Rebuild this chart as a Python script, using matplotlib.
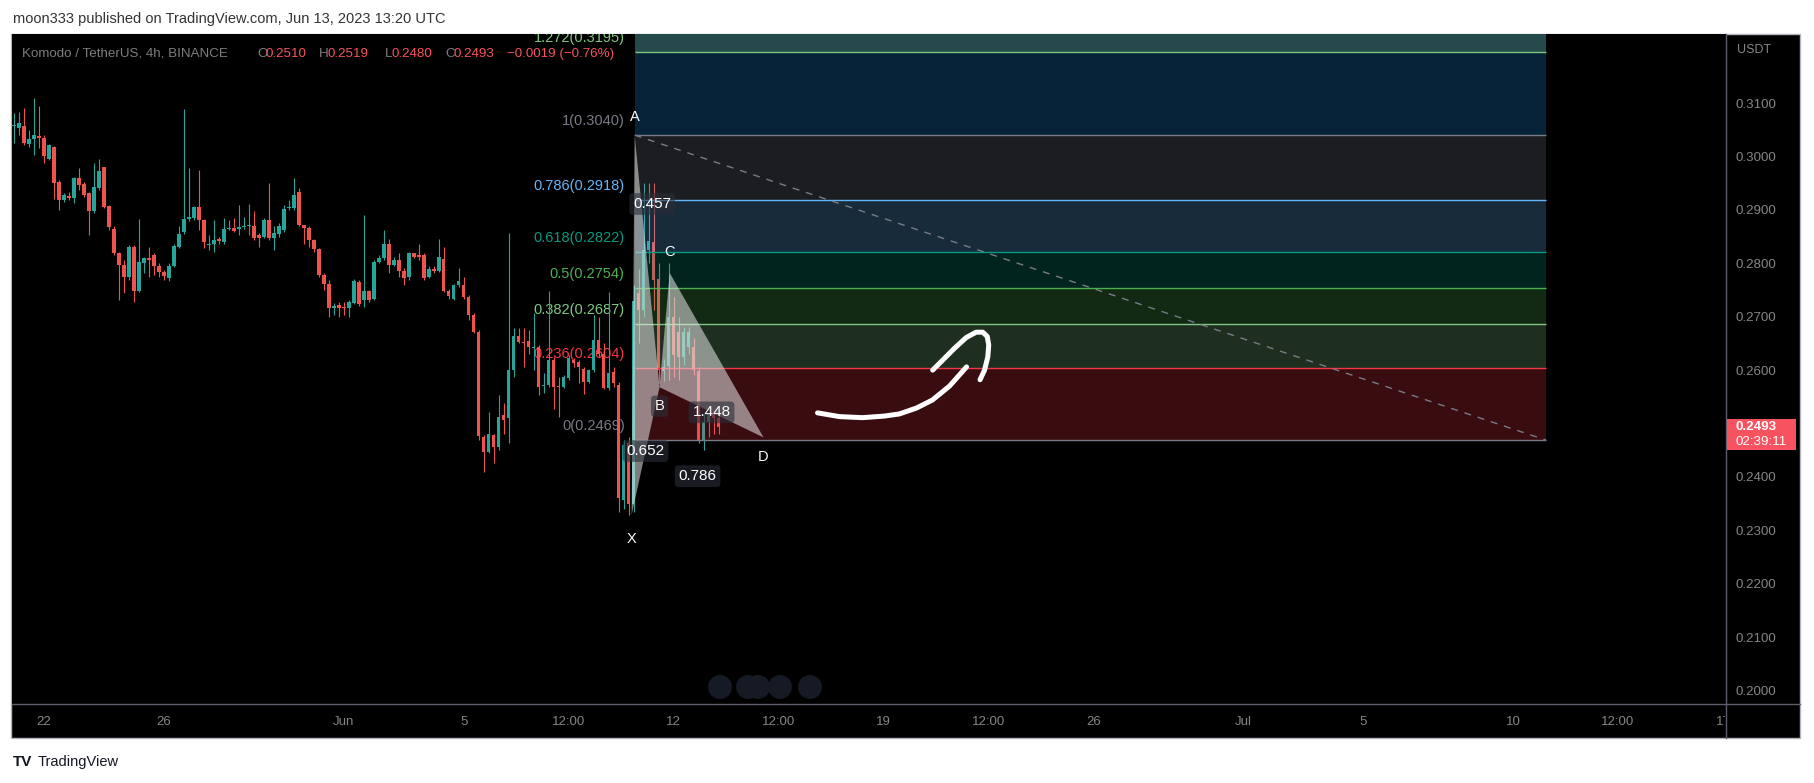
import matplotlib
matplotlib.use("Agg")
import matplotlib.pyplot as plt
from matplotlib.patches import Rectangle, Circle
from matplotlib.lines import Line2D
from matplotlib.transforms import IdentityTransform, Bbox

W, H = 1814, 783
plt.rcParams['font.family'] = ['Liberation Sans', 'DejaVu Sans']

# 4h candles, first bar May 21 00:00; x is measured in days since May 22 00:00
first_bar = -1.0
bar_step = 1 / 6

opens = [0.3057, 0.3053, 0.3057, 0.3024, 0.3032, 0.3038, 0.3035, 0.2996, 0.3018, 0.2953,
         0.2918, 0.2926, 0.2922, 0.2959, 0.2948, 0.2931, 0.2897, 0.2940, 0.2980, 0.2907,
         0.2865, 0.2819, 0.2797, 0.2774, 0.2831, 0.2749, 0.2801, 0.2809, 0.2816, 0.2795,
         0.2784, 0.2772, 0.2795, 0.2831, 0.2859, 0.2882, 0.2884, 0.2906, 0.2881, 0.2834,
         0.2836, 0.2845, 0.2839, 0.2864, 0.2866, 0.2865, 0.2867, 0.2869, 0.2870, 0.2853,
         0.2850, 0.2881, 0.2847, 0.2855, 0.2862, 0.2903, 0.2903, 0.2933, 0.2871, 0.2866,
         0.2844, 0.2826, 0.2778, 0.2762, 0.2716, 0.2722, 0.2719, 0.2717, 0.2726, 0.2765,
         0.2731, 0.2749, 0.2734, 0.2802, 0.2809, 0.2837, 0.2797, 0.2807, 0.2786, 0.2774,
         0.2819, 0.2816, 0.2815, 0.2774, 0.2789, 0.2786, 0.2808, 0.2749, 0.2734, 0.2759,
         0.2759, 0.2737, 0.2703, 0.2672,
         0.2475, 0.2447, 0.2478, 0.2457, 0.2516, 0.2510, 0.2601, 0.2664, 0.2653, 0.2655,
         0.2641, 0.2644, 0.2571, 0.2572, 0.2619, 0.2571, 0.2569, 0.2585, 0.2619, 0.2616,
         0.2603, 0.2578, 0.2600, 0.2656, 0.2631, 0.2566, 0.2597, 0.2572, 0.2357,
         0.2463, 0.2350, 0.2744, 0.2712, 0.2825, 0.2840, 0.2770, 0.2598, 0.2607, 0.2700,
         0.2672, 0.2625, 0.2644, 0.2644, 0.2599, 0.2469, 0.2503, 0.2518, 0.2510]
closes = [0.3059, 0.3062, 0.3025, 0.3032, 0.3040, 0.3034, 0.3000, 0.3021, 0.2950, 0.2918,
          0.2928, 0.2923, 0.2959, 0.2947, 0.2928, 0.2897, 0.2942, 0.2972, 0.2906, 0.2867,
          0.2819, 0.2797, 0.2774, 0.2831, 0.2749, 0.2803, 0.2809, 0.2806, 0.2795, 0.2784,
          0.2776, 0.2795, 0.2832, 0.2855, 0.2883, 0.2886, 0.2906, 0.2881, 0.2839, 0.2837,
          0.2844, 0.2841, 0.2865, 0.2866, 0.2861, 0.2868, 0.2870, 0.2872, 0.2847, 0.2847,
          0.2881, 0.2847, 0.2857, 0.2869, 0.2902, 0.2906, 0.2928, 0.2871, 0.2866, 0.2844,
          0.2826, 0.2778, 0.2761, 0.2716, 0.2720, 0.2716, 0.2716, 0.2728, 0.2767, 0.2724,
          0.2749, 0.2731, 0.2803, 0.2809, 0.2837, 0.2797, 0.2807, 0.2786, 0.2772, 0.2819,
          0.2812, 0.2812, 0.2772, 0.2790, 0.2786, 0.2811, 0.2749, 0.2738, 0.2759, 0.2766,
          0.2736, 0.2703, 0.2672, 0.2477,
          0.2447, 0.2481, 0.2457, 0.2512, 0.2507, 0.2601, 0.2664, 0.2653, 0.2650, 0.2644,
          0.2643, 0.2568, 0.2573, 0.2619, 0.2569, 0.2569, 0.2588, 0.2622, 0.2613, 0.2606,
          0.2578, 0.2600, 0.2656, 0.2631, 0.2566, 0.2595, 0.2575, 0.2360, 0.2460,
          0.2350, 0.2730, 0.2712, 0.2825, 0.2842, 0.2769, 0.2600, 0.2606, 0.2700, 0.2628,
          0.2625, 0.2672, 0.2672, 0.2600, 0.2469, 0.2503, 0.2518, 0.2510, 0.2493]
highs = [0.3081, 0.3084, 0.3090, 0.3050, 0.3110, 0.3094, 0.3040, 0.3024, 0.3020, 0.2956,
         0.2931, 0.2934, 0.2962, 0.2978, 0.2953, 0.2934, 0.2987, 0.2995, 0.2981, 0.2909,
         0.2869, 0.2822, 0.2806, 0.2834, 0.2834, 0.2882, 0.2812, 0.2831, 0.2819, 0.2800,
         0.2787, 0.2800, 0.2837, 0.2869, 0.3088, 0.2978, 0.2908, 0.2975, 0.2882, 0.2853,
         0.2881, 0.2850, 0.2884, 0.2881, 0.2884, 0.2909, 0.2887, 0.2911, 0.2897, 0.2856,
         0.2884, 0.2950, 0.2869, 0.2875, 0.2909, 0.2919, 0.2959, 0.2940, 0.2872, 0.2869,
         0.2845, 0.2828, 0.2781, 0.2768, 0.2725, 0.2728, 0.2728, 0.2731, 0.2770, 0.2769,
         0.2890, 0.2750, 0.2806, 0.2816, 0.2862, 0.2845, 0.2812, 0.2819, 0.2791, 0.2822,
         0.2820, 0.2837, 0.2819, 0.2794, 0.2794, 0.2845, 0.2831, 0.2751, 0.2762, 0.2791,
         0.2775, 0.2740, 0.2706, 0.2675,
         0.2478, 0.2522, 0.2481, 0.2553, 0.2538, 0.2856, 0.2678, 0.2678, 0.2678, 0.2675,
         0.2706, 0.2647, 0.2594, 0.2749, 0.2625, 0.2588, 0.2591, 0.2628, 0.2622, 0.2619,
         0.2606, 0.2603, 0.2703, 0.2700, 0.2650, 0.2747, 0.2606, 0.2578, 0.2470,
         0.2475, 0.2760, 0.2790, 0.2950, 0.2950, 0.2950, 0.2800, 0.2620, 0.2800, 0.2737,
         0.2700, 0.2680, 0.2680, 0.2660, 0.2605, 0.2520, 0.2525, 0.2525, 0.2519]
lows = [0.3025, 0.3040, 0.3022, 0.3018, 0.3003, 0.3015, 0.2987, 0.2993, 0.2920, 0.2900,
        0.2915, 0.2918, 0.2912, 0.2937, 0.2925, 0.2853, 0.2894, 0.2937, 0.2903, 0.2862,
        0.2816, 0.2731, 0.2744, 0.2769, 0.2728, 0.2747, 0.2781, 0.2775, 0.2778, 0.2775,
        0.2769, 0.2766, 0.2793, 0.2828, 0.2855, 0.2880, 0.2881, 0.2862, 0.2828, 0.2825,
        0.2822, 0.2837, 0.2837, 0.2862, 0.2859, 0.2853, 0.2865, 0.2853, 0.2844, 0.2831,
        0.2847, 0.2844, 0.2825, 0.2850, 0.2859, 0.2900, 0.2900, 0.2869, 0.2837, 0.2831,
        0.2822, 0.2775, 0.2750, 0.2700, 0.2703, 0.2699, 0.2703, 0.2700, 0.2724, 0.2720,
        0.2719, 0.2728, 0.2731, 0.2800, 0.2806, 0.2781, 0.2794, 0.2775, 0.2759, 0.2769,
        0.2809, 0.2806, 0.2769, 0.2772, 0.2781, 0.2784, 0.2747, 0.2734, 0.2731, 0.2756,
        0.2734, 0.2694, 0.2669, 0.2470,
        0.2410, 0.2444, 0.2426, 0.2450, 0.2481, 0.2463, 0.2587, 0.2650, 0.2606, 0.2631,
        0.2600, 0.2553, 0.2557, 0.2569, 0.2528, 0.2513, 0.2566, 0.2581, 0.2606, 0.2575,
        0.2556, 0.2575, 0.2597, 0.2625, 0.2564, 0.2563, 0.2569, 0.2335, 0.2340,
        0.2329, 0.2335, 0.2650, 0.2700, 0.2800, 0.2712, 0.2575, 0.2580, 0.2582, 0.2588,
        0.2581, 0.2610, 0.2630, 0.2590, 0.2463, 0.2450, 0.2475, 0.2480, 0.2480]

price_ticks = [0.20, 0.21, 0.22, 0.23, 0.24, 0.25, 0.26, 0.27, 0.28, 0.29, 0.30, 0.31]
time_ticks = [0, 4, 10, 14, 17.5, 21, 24.5, 28, 31.5, 35, 40, 44, 49, 52.5, 56]
time_labels = ['22', '26', 'Jun', '5', '12:00', '12', '12:00', '19', '12:00', '26',
               'Jul', '5', '10', '12:00', '17']

# fib retracement
fib_levels = ['0', '0.236', '0.382', '0.5', '0.618', '0.786', '1', '1.272']
fib_prices = [0.2469, 0.2604, 0.2687, 0.2754, 0.2822, 0.2918, 0.3040, 0.3195]
fib_colors = ['#787b86', '#f23645', '#81c784', '#4caf50', '#089981', '#64b5f6', '#787b86', '#81c784']
zone_colors = ['#f23645', '#81c784', '#4caf50', '#089981', '#64b5f6', '#787b86', '#2196f3']
fib_start, fib_end = 19.7, 50.1

# XABCD pattern
pat_names = ['X', 'A', 'B', 'C', 'D']
pat_days = [19.6, 19.7, 20.53, 20.87, 24.0]
pat_prices = [0.2329, 0.3040, 0.2568, 0.2782, 0.2474]
ratio_pairs = [(1, 3), (0, 2), (0, 4), (2, 4)]
ratio_text = ['0.457', '0.652', '0.786', '1.448']

# hand drawn arrow
brush1_days = [25.80, 26.53, 27.30, 28.03, 28.53, 29.10, 29.63, 30.20, 30.77]
brush1_prices = [0.2520, 0.2513, 0.2511, 0.2514, 0.2518, 0.2529, 0.2544, 0.2570, 0.2606]
brush2_days = [29.64, 29.98, 30.37, 30.76, 31.09, 31.31, 31.46, 31.51, 31.48, 31.37, 31.22]
brush2_prices = [0.2600, 0.2619, 0.2641, 0.2661, 0.2671, 0.2671, 0.2663, 0.2647, 0.2625, 0.2600, 0.2582]

last_price = 0.2493


def fx(x):
    return x / W


def fy(y):
    return 1 - y / H


fig = plt.figure(figsize=(W / 100, H / 100), dpi=100, facecolor='white')

# chart frame
fig.add_artist(Rectangle((fx(11), fy(738)), (1800 - 11) / W, (738 - 34) / H,
                         transform=fig.transFigure, facecolor='black',
                         edgecolor='#b2b5be', lw=1, zorder=0))

ax = fig.add_axes([fx(12), fy(704), (1726 - 12) / W, (704 - 34) / H])
ax.set_facecolor('black')
ax.set_xlim(-1.0667, 56.1)
ax.set_ylim(0.1975, 0.32292)
for s in ax.spines.values():
    s.set_visible(False)

# candles
up_col, dn_col = '#26a69a', '#ef5350'
for i in range(len(opens)):
    t = first_bar + i * bar_step
    o, h, l, c = opens[i], highs[i], lows[i], closes[i]
    col = up_col if c >= o else dn_col
    ax.vlines(t, l, h, color=col, lw=0.8, zorder=2)
    ax.bar(t, max(abs(c - o), 0.00015), bottom=min(o, c), width=0.7 * bar_step,
           color=col, lw=0, zorder=2.1)

# fib zones and lines
for k in range(len(zone_colors)):
    ax.fill_between([fib_start, fib_end], fib_prices[k], fib_prices[k + 1],
                    color=zone_colors[k], alpha=0.24, lw=0, zorder=3)
ax.fill_between([fib_start, fib_end], fib_prices[-1], 0.34,
                color='#264a4b', lw=0, zorder=3)
for lvl, p, col in zip(fib_levels, fib_prices, fib_colors):
    ax.hlines(p, fib_start, fib_end, color=col, lw=1, zorder=3.5)
    ax.annotate(f'{lvl}({p:.4f})', (fib_start, p), xytext=(-10, 14),
                textcoords='offset pixels', ha='right', va='center',
                color=col, fontsize=10.5, zorder=1.5, clip_on=True)
ax.plot([fib_start, fib_end], [fib_prices[6], fib_prices[0]], color='#787b86',
        lw=1, ls=(0, (5, 5)), zorder=3.6)

# harmonic pattern triangles
for tri in [(0, 1, 2), (2, 3, 4)]:
    ax.fill([pat_days[j] for j in tri], [pat_prices[j] for j in tri],
            color='#e6e6e6', alpha=0.55, lw=0, zorder=5)

box = dict(boxstyle='round,pad=0.25', fc='#2a2e39', ec='none', alpha=0.6)
for (a, b), txt in zip(ratio_pairs, ratio_text):
    ax.text((pat_days[a] + pat_days[b]) / 2, (pat_prices[a] + pat_prices[b]) / 2, txt,
            ha='center', va='center', color='white', fontsize=11, bbox=box, zorder=7)
name_offsets = [-24, 18, -19, 21, -20]
for name, t, p, off in zip(pat_names, pat_days, pat_prices, name_offsets):
    ax.annotate(name, (t, p), xytext=(0, off), textcoords='offset pixels',
                ha='center', va='center', color='white', fontsize=10.5,
                bbox=box if name == 'B' else None, zorder=7)

# brush arrow
ax.plot(brush1_days, brush1_prices, color='white', lw=3.6, solid_capstyle='round',
        solid_joinstyle='round', zorder=8)
ax.plot(brush2_days, brush2_prices, color='white', lw=3.6, solid_capstyle='round',
        solid_joinstyle='round', zorder=8)

# axes ticks
axis_col = '#858585'
ax.yaxis.tick_right()
ax.set_yticks(price_ticks)
ax.set_yticklabels([f'{p:.4f}' for p in price_ticks])
ax.tick_params(axis='y', length=0, pad=6.5, labelcolor=axis_col, labelsize=9.6)
ax.set_xticks(time_ticks)
ax.set_xticklabels(time_labels)
ax.tick_params(axis='x', length=0, pad=8.5, labelcolor=axis_col, labelsize=9.5)
clip_box = Bbox.from_extents(12, 0, 1725, H)
for tk in ax.xaxis.get_major_ticks():
    tk.label1.set_clip_on(True)
    tk.label1.set_clip_box(clip_box)

# separators
sep = '#5d606b'
fig.add_artist(Line2D([fx(12), fx(1800)], [fy(704), fy(704)], color=sep, lw=1,
                      transform=fig.transFigure))
fig.add_artist(Line2D([fx(1726), fx(1726)], [fy(34), fy(738)], color=sep, lw=1,
                      transform=fig.transFigure))

fig.text(fx(1737), fy(50), 'USDT', color=axis_col, fontsize=9, va='center')

# last price label
yp = ax.transData.transform((0, last_price))[1]
fig.add_artist(Rectangle((1727, yp - 23), 69, 31, transform=IdentityTransform(),
                         facecolor='#f7525f', edgecolor='none', zorder=10))
fig.text(fx(1735), yp / H, f'{last_price:.4f}', color='white', fontsize=9.6,
         fontweight='bold', va='center', zorder=11)
fig.text(fx(1735), (yp - 15) / H, '02:39:11', color='white', fontsize=9.6,
         va='center', zorder=11)

# scroll buttons
for cx in [720, 748, 758, 780, 810]:
    fig.add_artist(Circle((cx, H - 687), 12, transform=IdentityTransform(),
                          facecolor='#161a25', edgecolor='none', zorder=10))

# header and legend
fig.text(fx(13), fy(19), 'moon333 published on TradingView.com, Jun 13, 2023 13:20 UTC',
         color='#333333', fontsize=10.5, va='center')
gray, red = '#7d7d7d', '#f7525f'
legend_parts = [(22, 'Komodo / TetherUS, 4h, BINANCE', gray), (257, 'O', gray),
                (266, '0.2510', red), (319, 'H', gray), (328, '0.2519', red),
                (385, 'L', gray), (392, '0.2480', red), (445, 'C', gray),
                (453, '0.2493', red), (507, '\u22120.0019 (\u22120.76%)', red)]
for x, txt, col in legend_parts:
    fig.text(fx(x), fy(54), txt, color=col, fontsize=9.6, va='center', zorder=12)

# footer logo
fig.text(fx(13), fy(762), 'TV', color='#131722', fontsize=11, fontweight='bold',
         va='center')
fig.text(fx(38), fy(762), 'TradingView', color='#131722', fontsize=10.5, va='center')

fig.savefig('out.png', dpi=100, facecolor='white')
